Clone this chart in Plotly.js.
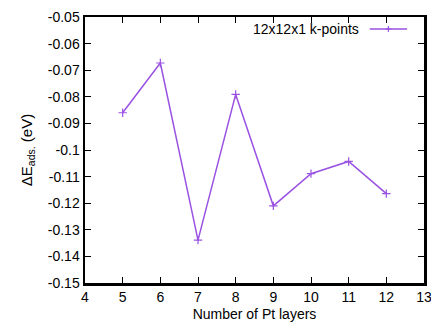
<!DOCTYPE html>
<html>
<head>
<meta charset="utf-8">
<script src="https://cdn.plot.ly/plotly-3.0.1.min.js"></script>
<style>html,body{margin:0;padding:0;background:#fff;}#chart{width:431px;height:322px;}</style>
</head>
<body>
<div id="chart"></div>
<script>
const layers = [5, 6, 7, 8, 9, 10, 11, 12];
const dEads = [-0.086, -0.0673, -0.1339, -0.0791, -0.121, -0.1089, -0.1043, -0.1164];
const seriesName = "12x12x1 k-points";
const xTickVals = [4, 5, 6, 7, 8, 9, 10, 11, 12, 13];
const xTickText = ["4", "5", "6", "7", "8", "9", "10", "11", "12", "13"];
const yTickVals = [-0.15, -0.14, -0.13, -0.12, -0.11, -0.1, -0.09, -0.08, -0.07, -0.06, -0.05];
const yTickText = ["-0.15", "-0.14", "-0.13", "-0.12", "-0.11", "-0.1", "-0.09", "-0.08", "-0.07", "-0.06", "-0.05"];

const purple = "#9a52e2";
const font = {family: "Liberation Sans, Arial, sans-serif", size: 14, color: "#000"};

const trace = {
  x: layers, y: dEads, type: "scatter", mode: "lines+markers", name: seriesName,
  line: {color: purple, width: 1.5},
  marker: {symbol: "cross-thin", size: 6, color: purple, line: {color: purple, width: 1.2}},
  showlegend: false
};

const layout = {
  width: 431, height: 322,
  margin: {l: 85, r: 7, t: 17, b: 39},
  paper_bgcolor: "#fff", plot_bgcolor: "#fff",
  font: font,
  xaxis: {
    range: [4, 13], tickvals: xTickVals, ticktext: xTickText,
    ticks: "inside", ticklen: 6, tickwidth: 1, tickcolor: "#000",
    showline: true, linecolor: "#000", linewidth: 2.5, mirror: "ticks",
    showgrid: false, zeroline: false, tickfont: font, ticklabeloverflow: "allow",
    title: {text: "Number of Pt layers", font: font, standoff: 11}
  },
  yaxis: {
    range: [-0.15, -0.05], tickvals: yTickVals, ticktext: yTickText,
    ticks: "inside", ticklen: 6, tickwidth: 1, tickcolor: "#000",
    showline: true, linecolor: "#000", linewidth: 2.5, mirror: "ticks",
    showgrid: false, zeroline: false, tickfont: font,
    title: {text: "ΔE<sub>ads.</sub> (eV)", font: {family: font.family, size: 15, color: "#000"}, standoff: 12}
  },
  annotations: [{
    xref: "paper", yref: "paper", x: 0.814, y: 0.955, xanchor: "right", yanchor: "middle",
    text: seriesName, showarrow: false, font: font
  }],
  shapes: [
    {type: "line", xref: "paper", yref: "paper", x0: 0.84, x1: 0.95, y0: 0.955, y1: 0.955,
     line: {color: purple, width: 1.5}},
    {type: "line", xref: "paper", yref: "paper", x0: 0.887, x1: 0.903, y0: 0.955, y1: 0.955,
     line: {color: purple, width: 1.2}},
    {type: "line", xref: "paper", yref: "paper", x0: 0.895, x1: 0.895, y0: 0.944, y1: 0.966,
     line: {color: purple, width: 1.2}}
  ]
};

Plotly.newPlot("chart", [trace], layout, {displayModeBar: false, staticPlot: true});
</script>
</body>
</html>
